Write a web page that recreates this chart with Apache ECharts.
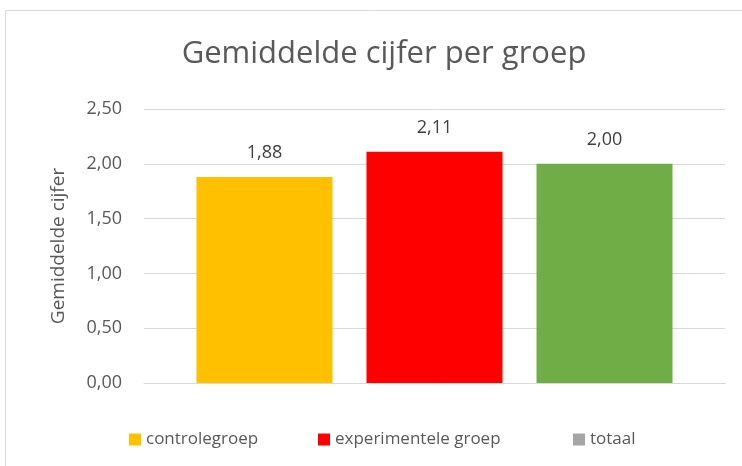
<!DOCTYPE html>
<html>
<head>
<meta charset="utf-8">
<script src="https://cdn.jsdelivr.net/npm/echarts@6/dist/echarts.min.js"></script>
<style>
  html, body { margin: 0; padding: 0; background: #fff; }
  #chart { width: 742px; height: 466px; }
</style>
</head>
<body>
<div id="chart"></div>
<script>
// one category, one series per groep (like the Excel chart)
var groepen = ["controlegroep", "experimentele groep", "totaal"];
var gemiddelden = [1.88, 2.11, 2.0];
var barKleuren = ["#FFC000", "#FF0000", "#70AD47"];
var legendKleuren = ["#FFC000", "#FF0000", "#A5A5A5"];
var yTicks = [0, 0.5, 1.0, 1.5, 2.0, 2.5];

var font = "'Open Sans', sans-serif";
var legendLinks = [124, 313, 568];

function komma(v) {
  return v.toFixed(2).replace(".", ",");
}

var chart = echarts.init(document.getElementById("chart"));

chart.setOption({
  animation: false,
  textStyle: { fontFamily: font },
  graphic: [
    {
      type: "rect",
      shape: { x: 5.5, y: 10.5, width: 745, height: 460 },
      style: { fill: "none", stroke: "#d9d9d9", lineWidth: 1 },
    },
  ],
  title: {
    text: "Gemiddelde cijfer per groep",
    left: 379,
    textAlign: "center",
    top: 34,
    textStyle: { fontFamily: font, fontSize: 31, fontWeight: "normal", color: "#595959" },
  },
  grid: { left: 144, right: 17, top: 109, bottom: 83 },
  // three legends so each entry sits where Excel put it
  legend: groepen.map(function (g, i) {
    return {
      top: 426,
      left: legendLinks[i],
      itemWidth: 12,
      itemHeight: 12,
      itemGap: 6,
      icon: "rect",
      textStyle: { fontFamily: font, fontSize: 17, color: "#595959" },
      data: [{ name: g, itemStyle: { color: legendKleuren[i] } }],
    };
  }),
  xAxis: {
    type: "category",
    data: ["groep"],
    axisLine: { lineStyle: { color: "#d9d9d9" } },
    axisTick: { show: false },
    axisLabel: { show: false },
  },
  yAxis: {
    type: "value",
    min: yTicks[0],
    max: yTicks[yTicks.length - 1],
    interval: 0.5,
    name: "Gemiddelde cijfer",
    nameLocation: "middle",
    nameGap: 76,
    nameTextStyle: { fontFamily: font, fontSize: 19, color: "#595959" },
    axisLine: { show: false },
    axisTick: { show: false },
    axisLabel: {
      fontFamily: font,
      fontSize: 18,
      color: "#595959",
      margin: 22,
      formatter: function (v) { return komma(v); },
    },
    splitLine: { lineStyle: { color: "#d9d9d9" } },
  },
  series: groepen.map(function (g, i) {
    return {
      name: g,
      type: "bar",
      barWidth: 136,
      barGap: "25%",
      data: [gemiddelden[i]],
      itemStyle: { color: barKleuren[i] },
      label: {
        show: true,
        position: "top",
        distance: 15,
        fontFamily: font,
        fontSize: 18,
        color: "#404040",
        formatter: function (p) { return komma(p.value); },
      },
    };
  }),
});
</script>
</body>
</html>
